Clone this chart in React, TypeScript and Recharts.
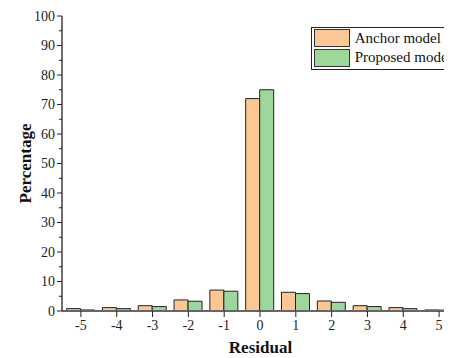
import { BarChart, Bar, XAxis, YAxis, Legend, Label } from "recharts";

const categories = ["-5", "-4", "-3", "-2", "-1", "0", "1", "2", "3", "4", "5"];
const anchorModel = [0.8, 1.15, 1.8, 3.75, 7.1, 72, 6.35, 3.4, 1.8, 1.15, 0.35];
const proposedModel = [0.35, 0.8, 1.5, 3.3, 6.7, 75, 5.9, 2.95, 1.5, 0.8, 0.3];
const yTicks = [0, 5, 10, 15, 20, 25, 30, 35, 40, 45, 50, 55, 60, 65, 70, 75, 80, 85, 90, 95, 100];

const data = categories.map((c, i) => ({
  residual: c,
  anchor: anchorModel[i],
  proposed: proposedModel[i],
}));

const FONT = "'Liberation Serif', 'Times New Roman', serif";
const ORANGE = "#FDC794";
const GREEN = "#9DD89A";
const EDGE = "#222";

function YTick(props: any) {
  const { x, y, payload } = props;
  const major = payload.value % 10 === 0;
  return (
    <g>
      <line x1={x} x2={x - (major ? 5 : 3)} y1={y} y2={y} stroke={EDGE} strokeWidth={1} />
      {major && (
        <text x={x - 7} y={y} dy="0.35em" textAnchor="end" fontSize={14} fontFamily={FONT} fill="#222">
          {payload.value}
        </text>
      )}
    </g>
  );
}

function renderLegend(props: any) {
  const { payload } = props;
  return (
    <div
      style={{
        border: "1px solid #222",
        width: 170,
        padding: "1px 2px",
        background: "#fff",
        fontFamily: FONT,
        fontSize: 15,
        color: "#111",
      }}
    >
      {payload.map((p: any) => (
        <div key={p.value} style={{ display: "flex", alignItems: "center", height: 19.5 }}>
          <span
            style={{
              display: "inline-block",
              width: 34,
              height: 16,
              background: p.color,
              border: "1px solid #333",
              marginRight: 5,
              flexShrink: 0,
            }}
          />
          <span style={{ whiteSpace: "nowrap" }}>{p.value}</span>
        </div>
      ))}
    </div>
  );
}

export default function App() {
  return (
    <div style={{ width: 444, height: 350, overflow: "hidden", position: "relative" }}>
      <BarChart
        width={449}
        height={350}
        data={data}
        margin={{ top: 8, right: 0, bottom: 0, left: 0 }}
        barCategoryGap="10%"
        barGap={0}
      >
        <XAxis
          dataKey="residual"
          height={47}
          padding={{ left: 1, right: 0 }}
          tickSize={6}
          tickMargin={3}
          tickLine={{ stroke: EDGE }}
          axisLine={{ stroke: "#666", strokeWidth: 2 }}
          tick={{ fontSize: 14, fontFamily: FONT, fill: "#222" }}
        >
          <Label
            content={(p: any) => {
              const vb = p.viewBox;
              return (
                <text
                  x={vb.x + vb.width / 2 + 1}
                  y={vb.y + 36}
                  textAnchor="middle"
                  dominantBaseline="central"
                  fontSize={17}
                  fontWeight="bold"
                  fontFamily={FONT}
                  fill="#111"
                >
                  Residual
                </text>
              );
            }}
          />
        </XAxis>
        <YAxis
          width={54}
          domain={[0, 100]}
          ticks={yTicks}
          interval={0}
          tickSize={0}
          tickMargin={0}
          tickLine={false}
          axisLine={{ stroke: EDGE, strokeWidth: 1.3 }}
          tick={<YTick />}
        >
          <Label
            content={(p: any) => {
              const vb = p.viewBox;
              const cx = 17;
              const cy = vb.y + vb.height / 2;
              return (
                <text
                  x={cx}
                  y={cy}
                  transform={`rotate(-90 ${cx} ${cy})`}
                  textAnchor="middle"
                  dominantBaseline="central"
                  fontSize={17}
                  fontWeight="bold"
                  fontFamily={FONT}
                  fill="#111"
                >
                  Percentage
                </text>
              );
            }}
          />
        </YAxis>
        <Legend
          layout="vertical"
          align="center"
          verticalAlign="middle"
          content={renderLegend}
          wrapperStyle={{ top: 18.7, left: 302.7, width: 180 }}
        />
        <Bar
          dataKey="anchor"
          name="Anchor model"
          fill={ORANGE}
          stroke={EDGE}
          strokeWidth={1}
          isAnimationActive={false}
        />
        <Bar
          dataKey="proposed"
          name="Proposed model"
          fill={GREEN}
          stroke={EDGE}
          strokeWidth={1}
          isAnimationActive={false}
        />
      </BarChart>
    </div>
  );
}
